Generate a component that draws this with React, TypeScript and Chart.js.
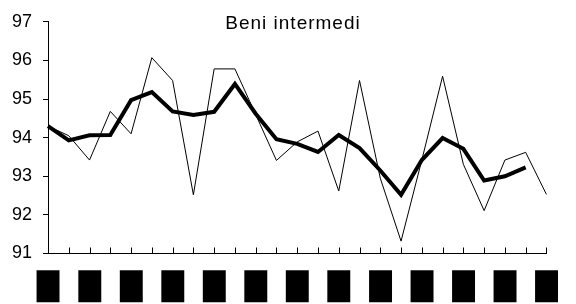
import { useEffect, useRef } from 'react';
import { Chart, registerables } from 'chart.js';

Chart.register(...registerables);

const chartTitle = 'Beni intermedi';

const categories = [
  '█', '', '█', '', '█', '', '█', '', '█', '', '█', '', '█',
  '', '█', '', '█', '', '█', '', '█', '', '█', '', '█',
];

const thinSeries = [
  94.3, 94.05, 93.42, 94.68, 94.1, 96.07, 95.48, 92.52, 95.78, 95.78, 94.6, 93.41, 93.89,
  94.17, 92.62, 95.48, 92.95, 91.32, 93.42, 95.59, 93.31, 92.11, 93.42, 93.62, 92.53,
];

const thickSeries = [
  94.3, 93.93, 94.06, 94.07, 94.97, 95.18, 94.68, 94.59, 94.67, 95.39, 94.62, 93.96, 93.84,
  93.63, 94.07, 93.73, 93.15, 92.52, 93.42, 93.99, 93.71, 92.89, 93.0, 93.23, null,
];

const yMin = 91;
const yMax = 97;
const yStep = 1;

// label block style targets (pixels)
const BLOCK_W = 23;
const BLOCK_H = 32;
const BLOCK_GAP = 16.5; // from x axis line to top of block
const AXIS_BOTTOM_SPACE = 50.5;
const BLOCK_FONT = '"DejaVu Sans", sans-serif';

function blockStyle() {
  const c = document.createElement('canvas');
  const m = c.getContext('2d')!;
  m.font = `100px ${BLOCK_FONT}`;
  m.textBaseline = 'middle';
  m.textAlign = 'center';
  const t = m.measureText('█');
  const gw = (t.actualBoundingBoxLeft + t.actualBoundingBoxRight) / 100;
  const asc = t.actualBoundingBoxAscent / 100;
  const desc = t.actualBoundingBoxDescent / 100;
  const gh = asc + desc;
  let f: number;
  let s: number;
  if (gh - gw > 0.05) {
    f = (BLOCK_H - BLOCK_W) / (gh - gw);
    s = BLOCK_W - gw * f;
    if (s < 0) {
      s = 0;
      f = BLOCK_H / gh;
    }
  } else {
    s = 0;
    f = BLOCK_H / gh;
  }
  // middle line position relative to axis line
  const midFromAxis = BLOCK_GAP + asc * f + s / 2;
  const padding = midFromAxis - (f * 1.2) / 2;
  return { size: f, stroke: s, padding };
}

const innerTicksPlugin = {
  id: 'innerTicks',
  afterDraw(chart: any) {
    const { ctx, chartArea } = chart;
    const xs = chart.scales.x;
    ctx.save();
    ctx.strokeStyle = '#000';
    ctx.lineWidth = 1;
    ctx.beginPath();
    for (let i = 0; i < xs.ticks.length; i++) {
      const x = Math.round(xs.getPixelForTick(i)) + 0.5;
      ctx.moveTo(x, chartArea.bottom);
      ctx.lineTo(x, chartArea.bottom - 6);
    }
    ctx.stroke();
    ctx.restore();
  },
};

const titlePlugin = {
  id: 'innerTitle',
  afterDraw(chart: any) {
    const { ctx } = chart;
    ctx.save();
    ctx.fillStyle = '#000';
    ctx.font = '19px "Liberation Sans", Arial, sans-serif';
    (ctx as any).letterSpacing = '1px';
    ctx.textAlign = 'center';
    ctx.textBaseline = 'alphabetic';
    ctx.fillText(chartTitle, chart.width / 2 + 5, 29);
    ctx.restore();
  },
};

export default function App() {
  const canvasRef = useRef<HTMLCanvasElement | null>(null);

  useEffect(() => {
    if (!canvasRef.current) return;
    const bs = blockStyle();
    const chart = new Chart(canvasRef.current, {
      type: 'line',
      data: {
        labels: categories,
        datasets: [
          {
            data: thickSeries,
            borderColor: '#000',
            borderWidth: 4,
            pointRadius: 0,
            tension: 0,
            fill: false,
            spanGaps: false,
          },
          {
            data: thinSeries,
            borderColor: '#000',
            borderWidth: 1,
            pointRadius: 0,
            tension: 0,
            fill: false,
          },
        ],
      },
      options: {
        responsive: false,
        animation: false,
        layout: { padding: { top: 15.5, right: 13, bottom: 0, left: 0 } },
        plugins: {
          legend: { display: false },
          title: { display: false },
          tooltip: { enabled: false },
        },
        scales: {
          x: {
            offset: false,
            grid: { display: false, drawTicks: false },
            border: { display: true, color: '#000', width: 1 },
            ticks: {
              autoSkip: false,
              maxRotation: 0,
              minRotation: 0,
              padding: bs.padding,
              color: '#000',
              textStrokeColor: '#000',
              textStrokeWidth: bs.stroke,
              font: { family: BLOCK_FONT, size: bs.size, lineHeight: 1.2 },
            },
            afterFit(scale: any) {
              scale.height = AXIS_BOTTOM_SPACE;
            },
          },
          y: {
            min: yMin,
            max: yMax,
            grid: {
              drawOnChartArea: false,
              drawTicks: true,
              tickLength: 5,
              color: '#000',
            },
            border: { display: true, color: '#000', width: 1 },
            ticks: {
              stepSize: yStep,
              padding: 11,
              color: '#000',
              font: { family: '"Liberation Sans", Arial, sans-serif', size: 18 },
            },
            afterFit(scale: any) {
              scale.width = 48;
            },
          },
        },
      },
      plugins: [innerTicksPlugin, titlePlugin],
    });
    return () => chart.destroy();
  }, []);

  return (
    <canvas
      ref={canvasRef}
      width={576}
      height={304}
      style={{ position: 'fixed', left: 0, top: 0, display: 'block' }}
    />
  );
}
